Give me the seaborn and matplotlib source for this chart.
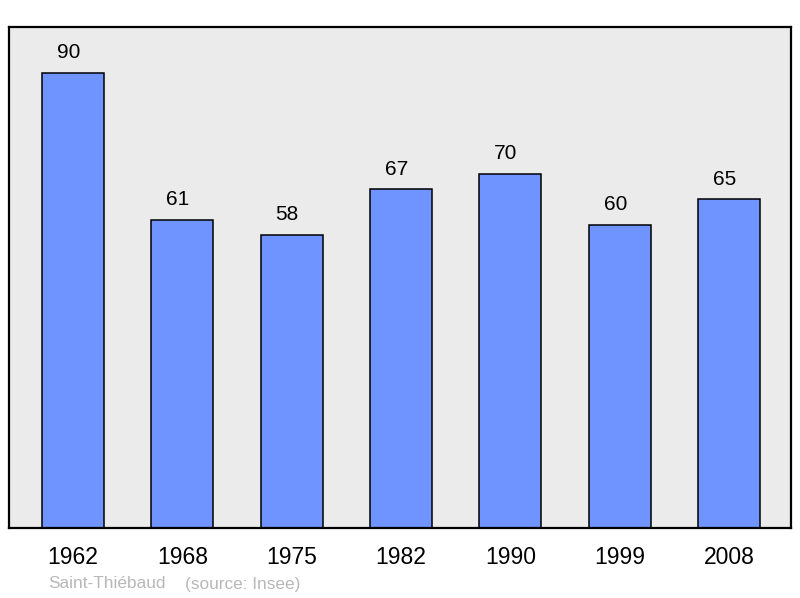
import numpy as np
import pandas as pd
import matplotlib
matplotlib.use('Agg')
import matplotlib.pyplot as plt
import seaborn as sns

years = ['1962', '1968', '1975', '1982', '1990', '1999', '2008']
population = [90, 61, 58, 67, 70, 60, 65]

sns.set_style('white')
plt.rcParams['font.family'] = ['Liberation Sans', 'DejaVu Sans']

df = pd.DataFrame({'annee': years, 'pop': population})

fig = plt.figure(figsize=(8, 5.98), dpi=100)
ax = fig.add_axes([9 / 800, 70 / 598, 782 / 800, 501 / 598])
ax.set_facecolor('#ebebeb')

sns.barplot(data=df, x='annee', y='pop', color='#7094ff', saturation=1,
            width=0.567, edgecolor='black', linewidth=1.1, ax=ax)

# labels sit a little left of bar centre in the original
for i, v in enumerate(population):
    ax.text(i - 0.04, v + 4.0, str(v), ha='center', va='center', fontsize=15,
            color='black')

ax.set_ylim(0, 99.1)
ax.set_xlim(-0.585, 6.567)
ax.set_yticks([])
ax.set_xlabel('')
ax.set_ylabel('')
ax.tick_params(axis='x', length=0, pad=13, labelsize=16.5, labelcolor='black')
for s in ax.spines.values():
    s.set_linewidth(1.6)
    s.set_color('black')

fig.text(48 / 800, 1 - 584 / 598, 'Saint-Thiébaud', color='#b8b8b8',
         fontsize=12.4, va='center')
fig.text(185 / 800, 1 - 584 / 598, '(source: Insee)', color='#b8b8b8',
         fontsize=12.4, va='center')

fig.savefig('out.png', dpi=100, facecolor='white')
